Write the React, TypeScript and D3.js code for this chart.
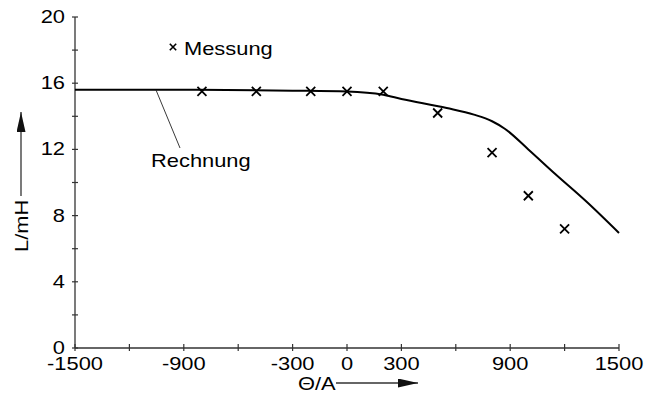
import React, { useEffect, useRef } from 'react';
import * as d3 from 'd3';

// Rechnung (computed curve)
const calcTheta = [-1500, -900, -300, 0, 200, 300, 550, 700, 800, 870, 1000, 1150, 1320, 1500];
const calcL = [15.6, 15.6, 15.55, 15.5, 15.3, 15.05, 14.5, 14.1, 13.7, 13.25, 12.0, 10.5, 8.85, 6.95];

// Messung (measured points)
const measTheta = [-800, -500, -200, 0, 200, 500, 800, 1000, 1200];
const measL = [15.5, 15.5, 15.5, 15.5, 15.5, 14.2, 11.8, 9.2, 7.2];

const xTicks = [-1500, -1200, -900, -600, -300, 0, 300, 600, 900, 1200, 1500];
const xLabels = [-1500, -900, -300, 0, 300, 900, 1500];
const yTicks = [0, 2, 4, 6, 8, 10, 12, 14, 16, 18, 20];
const yLabels = [0, 4, 8, 12, 16, 20];

const FONT = '"Liberation Sans", Arial, Helvetica, sans-serif';
const FS = 17.5;
const SX = 1.25;

function Chart() {
  const ref = useRef<SVGSVGElement>(null);

  useEffect(() => {
    const width = 658;
    const height = 394;
    const svg = d3.select(ref.current);
    svg.selectAll('*').remove();

    const x = d3.scaleLinear().domain([-1500, 1500]).range([75, 619]);
    const y = d3.scaleLinear().domain([0, 20]).range([348, 17]);

    const label = (tx: number, ty: number, txt: string, anchor: string, rot = 0) =>
      svg.append('text')
        .attr('transform', `translate(${tx},${ty}) rotate(${rot}) scale(${SX},1)`)
        .attr('text-anchor', anchor)
        .style('font-family', FONT)
        .style('font-size', FS + 'px')
        .attr('fill', '#000')
        .text(txt);

    // axes
    svg.append('line')
      .attr('x1', x(-1500)).attr('x2', x(-1500))
      .attr('y1', y(0)).attr('y2', y(20))
      .attr('stroke', '#333').attr('stroke-width', 1.3);
    svg.append('line')
      .attr('x1', x(-1500)).attr('x2', x(1500))
      .attr('y1', y(0)).attr('y2', y(0))
      .attr('stroke', '#333').attr('stroke-width', 1.3);

    yTicks.forEach(t => {
      svg.append('line')
        .attr('x1', x(-1500) - 3).attr('x2', x(-1500) + 3)
        .attr('y1', y(t)).attr('y2', y(t))
        .attr('stroke', '#333').attr('stroke-width', 1.2);
    });
    yLabels.forEach(t => {
      label(x(-1500) - 10, y(t) + 6, String(t), 'end');
    });

    xTicks.forEach(t => {
      svg.append('line')
        .attr('x1', x(t)).attr('x2', x(t))
        .attr('y1', y(0) - 4).attr('y2', y(0) + 3)
        .attr('stroke', '#333').attr('stroke-width', 1.2);
    });
    xLabels.forEach(t => {
      label(x(t), y(0) + 22, String(t), 'middle');
    });

    // axis titles with arrows
    svg.append('defs').append('marker')
      .attr('id', 'arr')
      .attr('viewBox', '0 0 20 9')
      .attr('refX', 20).attr('refY', 4.5)
      .attr('markerWidth', 20).attr('markerHeight', 9)
      .attr('markerUnits', 'userSpaceOnUse')
      .attr('orient', 'auto')
      .append('path')
      .attr('d', 'M0,0L20,4.5L0,9Z')
      .attr('fill', '#111');

    label(298, 390, 'Θ/A', 'start');
    svg.append('line')
      .attr('x1', 336).attr('x2', 418)
      .attr('y1', 383).attr('y2', 383)
      .attr('stroke', '#333').attr('stroke-width', 1.3)
      .attr('marker-end', 'url(#arr)');

    label(28, 252, 'L/mH', 'start', -90);
    svg.append('line')
      .attr('x1', 21).attr('x2', 21)
      .attr('y1', 196).attr('y2', 112)
      .attr('stroke', '#333').attr('stroke-width', 1.3)
      .attr('marker-end', 'url(#arr)');

    // Rechnung curve
    const calc = calcTheta.map((t, i) => [t, calcL[i]] as [number, number]);
    const line = d3.line<[number, number]>()
      .x(d => x(d[0]))
      .y(d => y(d[1]))
      .curve(d3.curveMonotoneX);
    svg.append('path')
      .attr('d', line(calc))
      .attr('fill', 'none')
      .attr('stroke', '#000')
      .attr('stroke-width', 2);

    // Messung crosses
    const cross = (cx: number, cy: number, r: number, w: number) =>
      svg.append('path')
        .attr('d', `M${cx - r},${cy - r}L${cx + r},${cy + r}M${cx - r},${cy + r}L${cx + r},${cy - r}`)
        .attr('stroke', '#000')
        .attr('stroke-width', w)
        .attr('fill', 'none');

    measTheta.forEach((t, i) => cross(x(t), y(measL[i]), 4.5, 1.8));

    // annotations
    cross(173, 47, 3.2, 1.6);
    label(184, 55, 'Messung', 'start');
    svg.append('line')
      .attr('x1', 156).attr('y1', 90)
      .attr('x2', 180).attr('y2', 148)
      .attr('stroke', '#222').attr('stroke-width', 0.9);
    label(151, 167, 'Rechnung', 'start');

    svg.attr('width', width).attr('height', height);
  }, []);

  return <svg ref={ref} width={658} height={394} style={{ display: 'block', background: '#fff' }} />;
}

export default function App() {
  return (
    <div style={{ position: 'absolute', left: 0, top: 0 }}>
      <Chart />
    </div>
  );
}
